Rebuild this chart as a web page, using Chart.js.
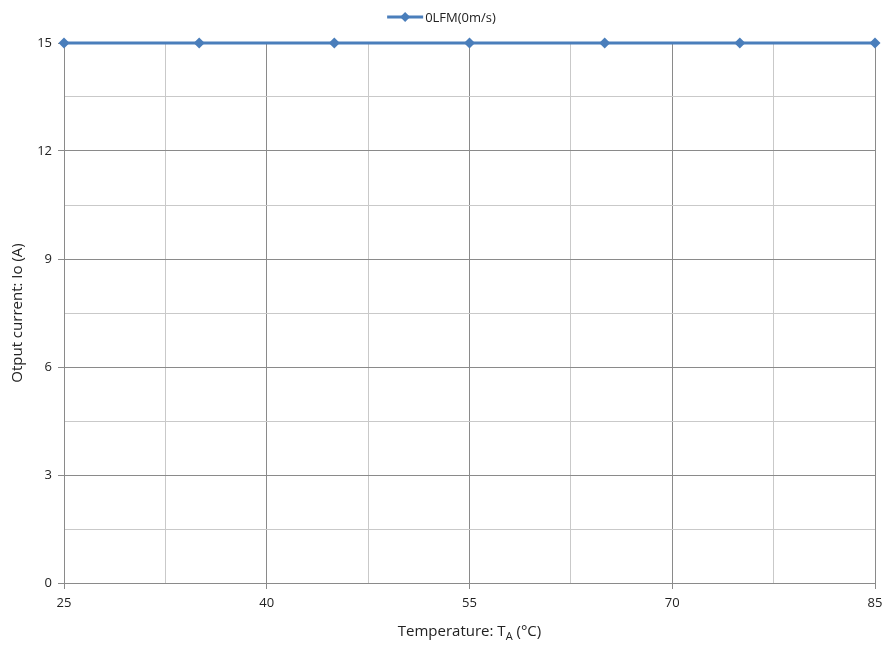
<!DOCTYPE html>
<html>
<head>
<meta charset="utf-8">
<script src="https://cdn.jsdelivr.net/npm/chart.js@4"></script>
<style>
html,body{margin:0;padding:0;background:#fff;}
#wrap{width:883px;height:645px;}
</style>
</head>
<body>
<div id="wrap"><canvas id="c" width="883" height="645"></canvas></div>
<script>
const temps = [25, 35, 45, 55, 65, 75, 85];
const current = [15, 15, 15, 15, 15, 15, 15];
const seriesLabel = '0LFM(0m/s)';
const xTicks = [25, 40, 55, 70, 85];
const yTicks = [0, 3, 6, 9, 12, 15];
const xTitleMain = 'Temperature: T';
const xTitleSub = 'A';
const xTitleEnd = ' (°C)';
const yTitle = 'Otput current: Io (A)';

const FONT = '"Open Sans", "DejaVu Sans", sans-serif';
const BLUE = '#4a7ebb';
const MAJOR = '#8a8a8a';
const MINOR = '#c9c9c9';

function withMinor(arr) {
  const out = [];
  for (let i = 0; i < arr.length; i++) {
    out.push(arr[i]);
    if (i < arr.length - 1) out.push((arr[i] + arr[i + 1]) / 2);
  }
  return out;
}
const isMajor = (arr, v) => arr.some(a => Math.abs(a - v) < 1e-6);

const titlesPlugin = {
  id: 'titles',
  afterDraw(chart) {
    const ctx = chart.ctx;
    const ca = chart.chartArea;
    ctx.save();
    ctx.fillStyle = '#222';
    ctx.font = '15px ' + FONT;
    const w1 = ctx.measureText(xTitleMain).width;
    const w3 = ctx.measureText(xTitleEnd).width;
    ctx.font = '11px ' + FONT;
    const w2 = ctx.measureText(xTitleSub).width;
    const total = w1 + w2 + w3;
    let x = (ca.left + ca.right) / 2 - total / 2;
    const y = 632;
    ctx.textBaseline = 'middle';
    ctx.textAlign = 'left';
    ctx.font = '15px ' + FONT;
    ctx.fillText(xTitleMain, x, y);
    ctx.font = '11px ' + FONT;
    ctx.fillText(xTitleSub, x + w1, y + 5);
    ctx.font = '15px ' + FONT;
    ctx.fillText(xTitleEnd, x + w1 + w2, y);
    ctx.save();
    ctx.translate(18, (ca.top + ca.bottom) / 2);
    ctx.rotate(-Math.PI / 2);
    ctx.textAlign = 'center';
    ctx.font = '15px ' + FONT;
    ctx.fillText(yTitle, 0, 0);
    ctx.restore();
    ctx.font = '13px ' + FONT;
    const label = chart.data.datasets[0].label;
    const tw = ctx.measureText(label).width;
    const lineW = 36;
    const lw = lineW + 2 + tw;
    const lx = chart.width / 2 - lw / 2;
    const ly = 17;
    ctx.strokeStyle = BLUE;
    ctx.lineWidth = 3;
    ctx.beginPath();
    ctx.moveTo(lx, ly);
    ctx.lineTo(lx + lineW, ly);
    ctx.stroke();
    ctx.fillStyle = BLUE;
    const cx = lx + lineW / 2, r = 5;
    ctx.beginPath();
    ctx.moveTo(cx, ly - r); ctx.lineTo(cx + r, ly); ctx.lineTo(cx, ly + r); ctx.lineTo(cx - r, ly);
    ctx.closePath(); ctx.fill();
    ctx.fillStyle = '#222';
    ctx.textAlign = 'left';
    ctx.fillText(label, lx + lineW + 2, ly + 1);
    ctx.restore();
  }
};

new Chart(document.getElementById('c'), {
  type: 'line',
  data: {
    datasets: [{
      label: seriesLabel,
      data: temps.map((t, i) => ({ x: t, y: current[i] })),
      borderColor: BLUE,
      backgroundColor: BLUE,
      borderWidth: 3,
      pointStyle: 'rectRot',
      pointRadius: 5.5,
      pointHoverRadius: 5.5,
      pointBorderWidth: 0,
      tension: 0,
      clip: false
    }]
  },
  options: {
    responsive: false,
    animation: false,
    devicePixelRatio: 1,
    layout: { padding: { left: 0, right: 8, top: 43, bottom: 0 } },
    plugins: { legend: { display: false }, tooltip: { enabled: false } },
    scales: {
      x: {
        type: 'linear',
        min: xTicks[0], max: xTicks[xTicks.length - 1],
        afterBuildTicks(s) { s.ticks = withMinor(xTicks).map(v => ({ value: v })); },
        afterFit(s) { s.height = 62; s.paddingRight = 0; s.paddingLeft = 0; },
        ticks: {
          autoSkip: false, maxRotation: 0,
          padding: 6,
          color: '#222',
          font: { family: FONT, size: 13 },
          callback: v => isMajor(xTicks, v) ? String(v) : ''
        },
        grid: {
          color: c => (c.tick && isMajor(xTicks, c.tick.value)) ? MAJOR : MINOR,
          tickColor: c => (c.tick && isMajor(xTicks, c.tick.value)) ? MAJOR : 'rgba(0,0,0,0)',
          tickLength: 6,
          lineWidth: 1
        },
        border: { color: MAJOR, width: 1 }
      },
      y: {
        type: 'linear',
        min: yTicks[0], max: yTicks[yTicks.length - 1],
        afterBuildTicks(s) { s.ticks = withMinor(yTicks).map(v => ({ value: v })); },
        afterFit(s) { s.width = 64; s.paddingTop = 0; s.paddingBottom = 0; },
        ticks: {
          autoSkip: false,
          padding: 6,
          color: '#222',
          font: { family: FONT, size: 13 },
          callback: v => isMajor(yTicks, v) ? String(v) : ''
        },
        grid: {
          color: c => (c.tick && isMajor(yTicks, c.tick.value)) ? MAJOR : MINOR,
          tickColor: c => (c.tick && isMajor(yTicks, c.tick.value)) ? MAJOR : 'rgba(0,0,0,0)',
          tickLength: 6,
          lineWidth: 1
        },
        border: { color: MAJOR, width: 1 }
      }
    }
  },
  plugins: [titlesPlugin]
});
</script>
</body>
</html>
